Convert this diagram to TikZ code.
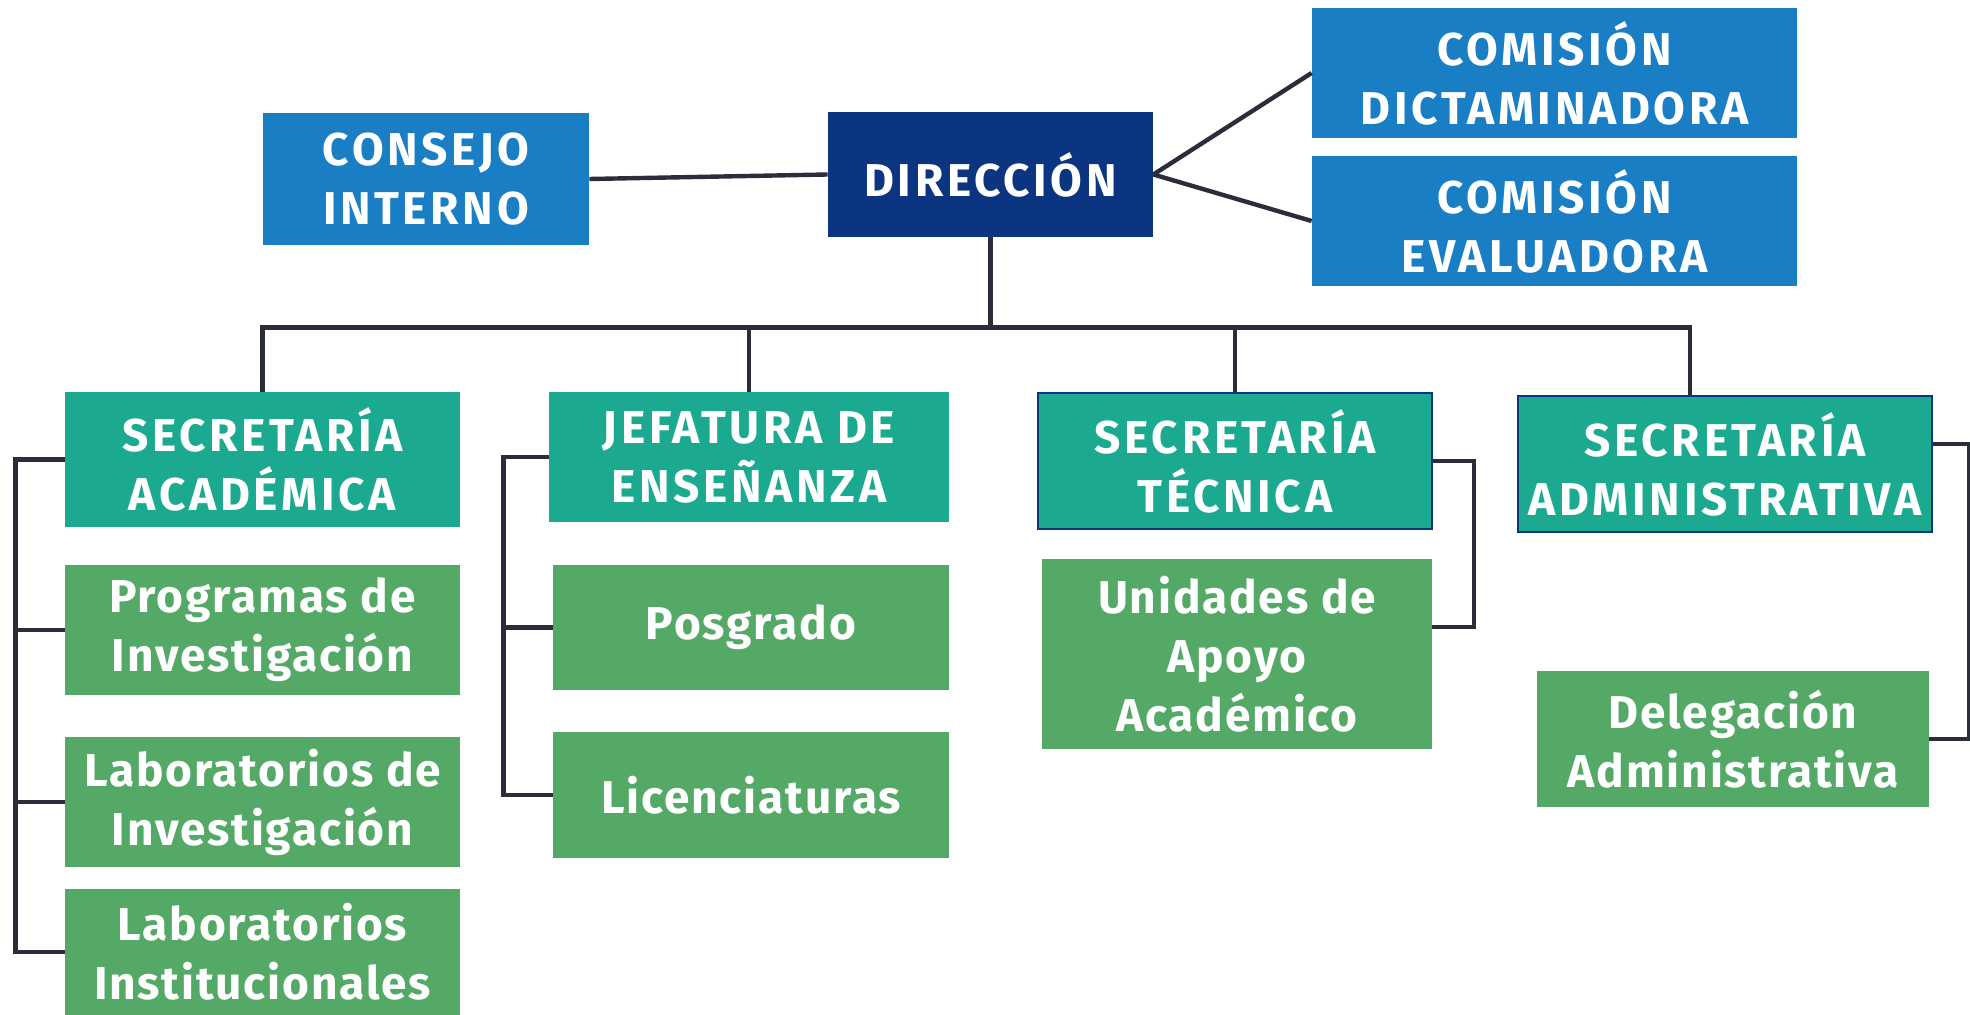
\documentclass[tikz,border=0pt]{standalone}
\usepackage{fontspec}
\setmainfont{Fira Sans}
\newfontfamily\boxfont[LetterSpace=8]{Fira Sans}
\newfontfamily\unitfont[LetterSpace=4]{Fira Sans}
\definecolor{comblue}{HTML}{1A7EC4}
\definecolor{dirnavy}{HTML}{0B3581}
\definecolor{secteal}{HTML}{1BA98F}
\definecolor{unitgreen}{HTML}{55A966}
\definecolor{linkgray}{HTML}{2A2E3B}
\begin{document}
\begin{tikzpicture}[x=0.5pt,y=-0.5pt,
  box/.style={inner sep=0pt, align=center, text=white,
    font=\boxfont\bfseries\fontsize{23}{29.5}\selectfont},
  comm/.style={box, fill=comblue},
  head/.style={box, fill=dirnavy},
  secr/.style={box, fill=secteal},
  secrb/.style={secr, draw=dirnavy, line width=1.2pt},
  unit/.style={box, fill=unitgreen, font=\unitfont\bfseries\fontsize{23}{29.5}\selectfont},
  link/.style={draw=linkgray, line width=2.2pt}]
  \useasboundingbox (0,0) rectangle (1970,1015);
  % top level
  \node[comm, minimum width=163pt, minimum height=66pt] (consejo) at (426,179) {CONSEJO\\INTERNO};
  \node[head, minimum width=162.5pt, minimum height=62.5pt] (direccion) at (990.5,174.5) {DIRECCIÓN};
  \node[comm, minimum width=242.5pt, minimum height=65pt] (dictam) at (1554.5,73) {COMISIÓN\\DICTAMINADORA};
  \node[comm, minimum width=242.5pt, minimum height=65pt] (evalua) at (1554.5,221) {COMISIÓN\\EVALUADORA};
  % secretarias
  \node[secr, minimum width=197.5pt, minimum height=67.5pt] (sacad) at (262.5,459.5) {SECRETARÍA\\ACADÉMICA};
  \node[secr, minimum width=200pt, minimum height=65pt] (jefat) at (749,457) {JEFATURA DE\\ENSEÑANZA};
  \node[secrb, minimum width=197pt, minimum height=68pt] (stec) at (1235,461) {SECRETARÍA\\TÉCNICA};
  \node[secrb, minimum width=207pt, minimum height=68pt] (sadm) at (1725,464) {SECRETARÍA\\ADMINISTRATIVA};
  % unidades
  \node[unit, minimum width=197.5pt, minimum height=65pt] (prog) at (262.5,630) {Programas de\\Investigación};
  \node[unit, minimum width=197.5pt, minimum height=65pt] (labinv) at (262.5,802) {Laboratorios de\\Investigación};
  \node[unit, minimum width=197.5pt, minimum height=63pt] (labinst) at (262.5,952) {Laboratorios\\Institucionales};
  \node[unit, minimum width=198pt, minimum height=62.5pt] (posg) at (751,627.5) {Posgrado};
  \node[unit, minimum width=198pt, minimum height=63pt] (licen) at (751,795) {Licenciaturas};
  \node[unit, minimum width=195pt, minimum height=95pt] (unid) at (1237,654) {Unidades de\\Apoyo\\Académico};
  \node[unit, minimum width=196pt, minimum height=68pt] (deleg) at (1733,739) {Delegación\\Administrativa};

  \draw[link] (consejo.east) -- (direccion.west);
  \draw[link] (direccion.east) -- (dictam.west);
  \draw[link] (direccion.east) -- (evalua.west);
  \draw[link] (direccion.south) -- ++(0,-45pt) coordinate (bus);
  \draw[link] (sacad.north) |- (bus);
  \draw[link] ([xshift=-17.5pt]sadm.north) |- (bus);
  \foreach \n in {jefat,stec}
    \draw[link] (\n.north) -- (\n.north |- bus);

  \draw[link] (sacad.west) -- ++(-24.5pt,0) coordinate (ac) |- (labinst.west);
  \foreach \n in {prog,labinv}
    \draw[link] (\n.west) -- (\n.west -| ac);
  \draw[link] (jefat.west) -- ++(-22.5pt,0) coordinate (je) |- (licen.west);
  \draw[link] (posg.west) -- (posg.west -| je);
  \draw[link] (stec.east) -- ++(20.5pt,0) |- ([yshift=13.5pt]unid.east);
  \draw[link] ([yshift=10pt]sadm.east) -- ++(18pt,0) |- (deleg.east);
\end{tikzpicture}
\end{document}
